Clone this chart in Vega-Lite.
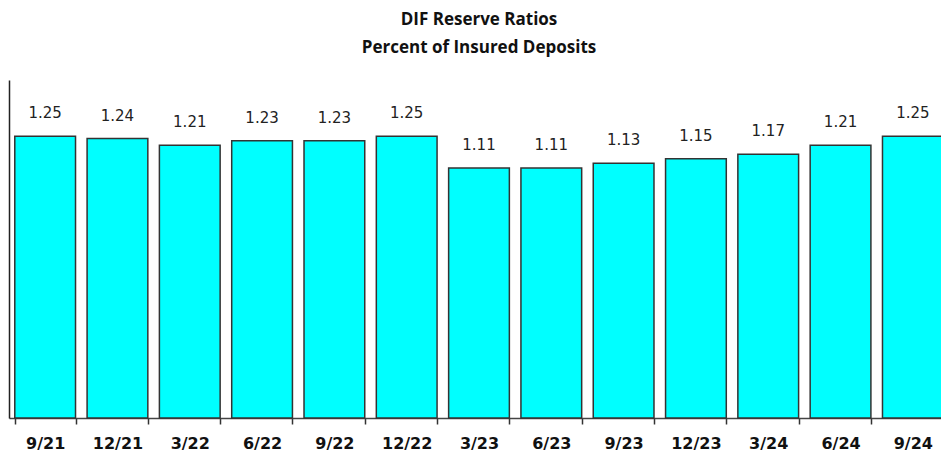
{
  "$schema": "https://vega.github.io/schema/vega-lite/v6.json",
  "width": 940,
  "height": 338,
  "autosize": {"type": "none"},
  "padding": {"left": 9, "top": 80, "right": 0, "bottom": 42},
  "background": "white",
  "title": {
    "text": ["DIF Reserve Ratios", "Percent of Insured Deposits"],
    "font": "Open Sans",
    "fontSize": 17,
    "fontWeight": "bold",
    "color": "#111",
    "anchor": "middle",
    "lineHeight": 28,
    "offset": 23
  },
  "data": {
    "values": [
      {"quarter": "9/21", "ratio": 1.25},
      {"quarter": "12/21", "ratio": 1.24},
      {"quarter": "3/22", "ratio": 1.21},
      {"quarter": "6/22", "ratio": 1.23},
      {"quarter": "9/22", "ratio": 1.23},
      {"quarter": "12/22", "ratio": 1.25},
      {"quarter": "3/23", "ratio": 1.11},
      {"quarter": "6/23", "ratio": 1.11},
      {"quarter": "9/23", "ratio": 1.13},
      {"quarter": "12/23", "ratio": 1.15},
      {"quarter": "3/24", "ratio": 1.17},
      {"quarter": "6/24", "ratio": 1.21},
      {"quarter": "9/24", "ratio": 1.25}
    ]
  },
  "encoding": {
    "x": {
      "field": "quarter",
      "type": "nominal",
      "sort": null,
      "scale": {"paddingInner": 0.16, "paddingOuter": 0.08},
      "axis": {
        "title": null,
        "labelAngle": 0,
        "labelFont": "DejaVu Sans",
        "labelFontSize": 16,
        "labelFontWeight": "bold",
        "labelColor": "#111",
        "labelPadding": 11,
        "tickBand": "extent",
        "ticks": true,
        "tickSize": 6,
        "tickWidth": 1.5,
        "tickColor": "#333",
        "domainColor": "#444",
        "domainWidth": 1.5,
        "grid": false
      }
    },
    "y": {
      "field": "ratio",
      "type": "quantitative",
      "scale": {"domain": [0, 1.5], "nice": false},
      "axis": {
        "title": null,
        "labels": false,
        "ticks": false,
        "grid": false,
        "domainColor": "#222",
        "domainWidth": 1.5
      }
    }
  },
  "layer": [
    {
      "mark": {"type": "bar", "color": "#00FFFF", "stroke": "#333", "strokeWidth": 1.5}
    },
    {
      "mark": {"type": "text", "dy": -23, "font": "DejaVu Sans", "fontSize": 15, "color": "#222"},
      "encoding": {"text": {"field": "ratio", "type": "quantitative", "format": ".2f"}}
    }
  ],
  "config": {"view": {"stroke": null}}
}
